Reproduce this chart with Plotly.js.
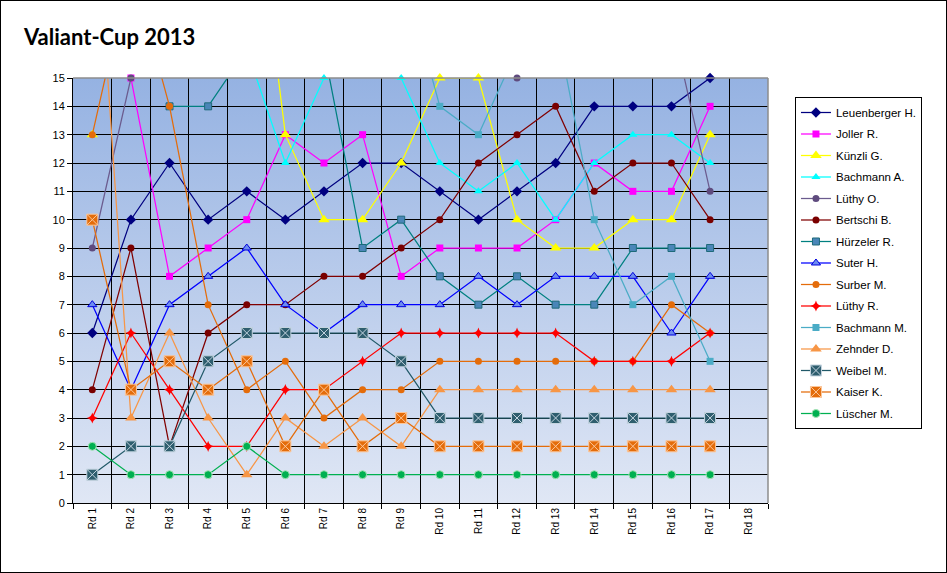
<!DOCTYPE html>
<html>
<head>
<meta charset="utf-8">
<script src="https://cdn.plot.ly/plotly-3.0.1.min.js"></script>
<style>
  body { margin: 0; background: #fff; }
  #chart { width: 945px; height: 571px; border: 1px solid #000; }
</style>
</head>
<body>
<div id="chart"></div>
<script>
// rounds on the category axis (Rd 18 has no results yet)
var rounds = ['Rd 1','Rd 2','Rd 3','Rd 4','Rd 5','Rd 6','Rd 7','Rd 8','Rd 9',
              'Rd 10','Rd 11','Rd 12','Rd 13','Rd 14','Rd 15','Rd 16','Rd 17','Rd 18'];
var yTicks = [0,1,2,3,4,5,6,7,8,9,10,11,12,13,14,15];

// ranking per round; values above 15 run off the top of the chart
var leuenberger = [6,10,12,10,11,10,11,12,12,11,10,11,12,14,14,14,15];
var joller      = [null,15,8,9,10,13,12,13,8,9,9,9,10,12,11,11,14];
var kuenzli     = [13,null,null,null,24,13,10,10,12,15,15,10,9,9,10,10,13];
var bachmannA   = [null,null,null,null,16,12,15,17,15,12,11,12,10,12,13,13,12];
var luethyO     = [9,15,17,18,18,17,18,19,17,16,16,15,16,16,17,17,11];
var bertschi    = [4,9,2,6,7,7,8,8,9,10,12,13,14,11,12,12,10];
var huerzeler   = [null,null,14,14,16,17,16,9,10,8,7,8,7,7,9,9,9];
var suter       = [7,4,7,8,9,7,6,7,7,7,8,7,8,8,8,6,8];
var surber      = [13,19,14,7,4,5,3,4,4,5,5,5,5,5,5,7,6];
var luethyR     = [3,6,4,2,2,4,4,5,6,6,6,6,6,5,5,5,6];
var bachmannM   = [null,null,null,null,null,null,null,null,19,14,13,16,17,10,7,8,5];
var zehnder     = [23,3,6,3,1,3,2,3,2,4,4,4,4,4,4,4,4];
var weibel      = [1,2,2,5,6,6,6,6,5,3,3,3,3,3,3,3,3];
var kaiser      = [10,4,5,4,5,2,4,2,3,2,2,2,2,2,2,2,2];
var luescher    = [2,1,1,1,2,1,1,1,1,1,1,1,1,1,1,1,1];

function series(name, y, lineColor, symbol, size, fill, edge, edgeWidth) {
    return {
        x: rounds.slice(0, y.length),
        y: y,
        type: 'scatter',
        mode: 'lines+markers',
        name: name,
        legendgroup: name,            // one group each, so tracegroupgap spaces the legend
        cliponaxis: false,            // keep markers sitting on 15 whole
        line: { color: lineColor, width: 1.25 },
        marker: {
            symbol: symbol,
            size: size,
            color: fill || lineColor,
            line: { color: edge || fill || lineColor, width: edgeWidth || 0 }
        }
    };
}

var data = [
    series('Leuenberger H.', leuenberger, '#000080', 'diamond', 8),
    series('Joller R.', joller, '#FF00FF', 'square', 7),
    series('Künzli G.', kuenzli, '#FFFF00', 'triangle-up', 10),
    series('Bachmann A.', bachmannA, '#00FFFF', 'triangle-up', 8),
    series('Lüthy O.', luethyO, '#6B5B8E', 'circle', 7, '#5F4B7E'),
    series('Bertschi B.', bertschi, '#800000', 'circle', 7, '#7A0000'),
    series('Hürzeler R.', huerzeler, '#008080', 'square', 7, '#4A86B8', '#1E6A7A', 1),
    series('Suter H.', suter, '#0000FF', 'triangle-up', 8, '#6D8CF0', '#0000DD', 1),
    series('Surber M.', surber, '#E46C0A', 'circle', 7),
    series('Lüthy R.', luethyR, '#FF0000', 'star-diamond', 8),
    series('Bachmann M.', bachmannM, '#4BACC6', 'square', 7),
    series('Zehnder D.', zehnder, '#F79646', 'triangle-up', 10),
    series('Weibel M.', weibel, '#215968', 'square-x', 11, '#2E5E6E', '#C5D5E0', 1),
    series('Kaiser K.', kaiser, '#E46C0A', 'square-x', 11, '#E46C0A', '#FCC79A', 1),
    series('Lüscher M.', luescher, '#00B050', 'circle', 8, '#00B050', '#A6E3B6', 1)
];

// vertical blue gradient behind the plot area
var grad = "<svg xmlns='http://www.w3.org/2000/svg' width='100' height='100' viewBox='0 0 100 100' preserveAspectRatio='none'>" +
           "<defs><linearGradient id='g' x1='0' y1='0' x2='0' y2='1'>" +
           "<stop offset='0' stop-color='#95B2E2'/><stop offset='1' stop-color='#E0E7F5'/>" +
           "</linearGradient></defs><rect width='100' height='100' fill='url(#g)'/></svg>";

var layout = {
    width: 945,
    height: 571,
    autosize: false,
    margin: { l: 72, r: 178, t: 77, b: 69 },
    paper_bgcolor: '#FFFFFF',
    plot_bgcolor: 'rgba(0,0,0,0)',
    font: { family: 'Liberation Sans, Arial, sans-serif', size: 11, color: '#000' },
    title: {
        text: '<b>Valiant-Cup 2013</b>',
        font: { family: 'Lato, Carlito, sans-serif', size: 22, color: '#000' },
        xref: 'container', yref: 'container',
        x: 0.0243, xanchor: 'left',
        y: 0.937, yanchor: 'middle'
    },
    xaxis: {
        type: 'category',
        categoryorder: 'array',
        categoryarray: rounds,
        range: [-0.5, 17.5],
        tickson: 'boundaries',
        ticks: 'outside',
        ticklen: 5,
        tickcolor: '#000',
        tickangle: -90,
        tickfont: { size: 10 },
        showgrid: true,
        gridcolor: '#000',
        gridwidth: 1,
        showline: true,
        linecolor: '#000',
        linewidth: 1,
        zeroline: false,
        fixedrange: true
    },
    yaxis: {
        range: [0, 15],
        tickvals: yTicks,
        ticks: 'outside',
        ticklen: 5,
        tickcolor: '#000',
        showgrid: true,
        gridcolor: '#000',
        gridwidth: 1,
        showline: true,
        linecolor: '#000',
        linewidth: 1,
        zeroline: false,
        fixedrange: true
    },
    images: [{
        source: 'data:image/svg+xml;charset=utf-8,' + encodeURIComponent(grad),
        xref: 'paper', yref: 'paper',
        x: 0, y: 1, sizex: 1, sizey: 1,
        xanchor: 'left', yanchor: 'top',
        sizing: 'stretch',
        layer: 'below'
    }],
    shapes: [
        // grey frame on top and right of the plot area
        { type: 'line', xref: 'paper', yref: 'paper', x0: 0, x1: 1, y0: 1, y1: 1,
          line: { color: '#8C8C8C', width: 1.5 }, layer: 'above' },
        { type: 'line', xref: 'paper', yref: 'paper', x0: 1, x1: 1, y0: 0, y1: 1,
          line: { color: '#8C8C8C', width: 1.5 }, layer: 'above' }
    ],
    showlegend: true,
    legend: {
        x: 1.0388, xanchor: 'left',
        y: 0.9553, yanchor: 'top',
        traceorder: 'grouped',
        tracegroupgap: 2.5,
        bgcolor: '#FFFFFF',
        bordercolor: '#000',
        borderwidth: 1,
        font: { family: 'Liberation Sans, Arial, sans-serif', size: 11.5, color: '#000' }
    }
};

var config = {
    displayModeBar: false,
    staticPlot: true
};

Plotly.newPlot('chart', data, layout, config);
</script>
</body>
</html>
